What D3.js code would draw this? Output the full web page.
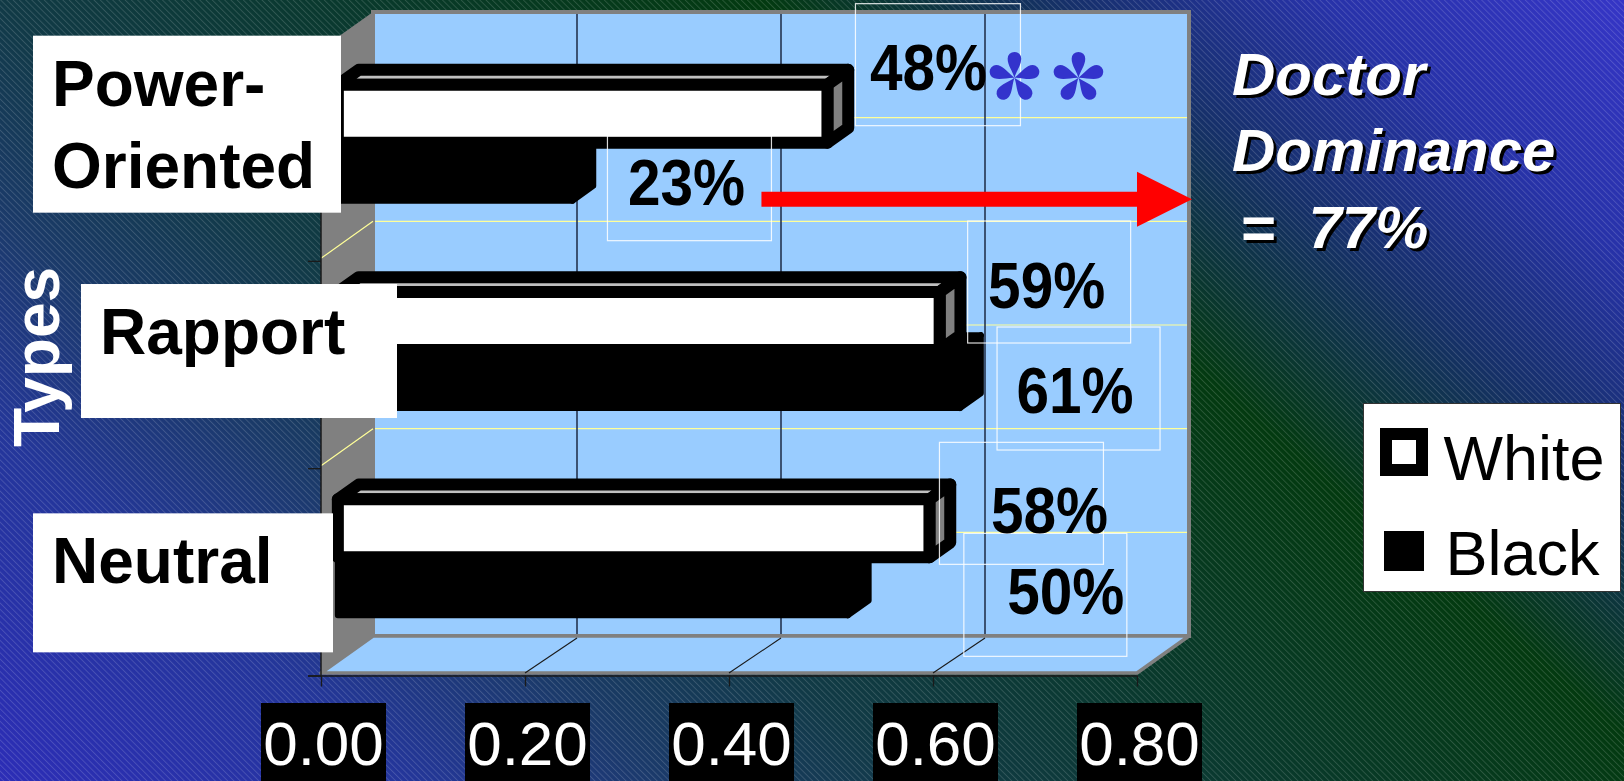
<!DOCTYPE html>
<html>
<head>
<meta charset="utf-8">
<script src="https://cdn.jsdelivr.net/npm/d3@7"></script>
<style>
  html, body { margin: 0; padding: 0; overflow: hidden; background: #1b2f6a; }
  text { font-family: "Liberation Sans", Arial, sans-serif; }
</style>
</head>
<body>
<svg id="chart" width="1624" height="781"></svg>
<script>
// ---- data ----
const categories = ["Power-Oriented", "Rapport", "Neutral"];
const categoryLines = [["Power-", "Oriented"], ["Rapport"], ["Neutral"]];
const seriesNames = ["White", "Black"];
const whiteShare = [0.48, 0.59, 0.58];
const blackShare = [0.23, 0.61, 0.50];
const valueTicks = [0, 0.2, 0.4, 0.6, 0.8];
const axisTitle = "Types";
const noteLines = ["Doctor", "Dominance", "=  77%"];

// ---- layout ----
const W = 1624, H = 781;
const wall = { left: 373, right: 1189, top: 12, bottom: 636 };
const DEPTH = { dx: -52, dy: 37 };            // back plane -> front plane offset
const BAR_FRONT = 0.676, BAR_BACK = 0.276;    // depth slot of the bars
const proj = (px, py, d) => [px + DEPTH.dx * d, py + DEPTH.dy * d];

const x = d3.scaleLinear().domain([0, 0.8]).range([wall.left, wall.right]);
const xFront = d3.scaleLinear().domain(x.domain()).range(x.range().map(v => v + DEPTH.dx));
const yCat = d3.scaleBand().domain(categories).range([wall.top + 2, wall.bottom]);
const ySer = d3.scaleBand().domain(seriesNames).range([0, yCat.bandwidth()])
  .paddingInner(0).paddingOuter(0.787);

const seriesStyle = {
  White: { front: "#ffffff", top: "#c0c0c0", side: "#808080", stroke: "#000", width: 12 },
  Black: { front: "#000000", top: "#000000", side: "#000000", stroke: "#000", width: 6 }
};
const shares = { White: whiteShare, Black: blackShare };

// data label placement: text offset from bar end, frame offset from text anchor
const labelLayout = {
  White: [
    { tx: 101, ty: -24, bx: -73,  by: -86, bw: 165, bh: 122 },
    { tx: 107, ty: -13, bx: -79,  by: -87, bw: 163, bh: 122 },
    { tx: 120, ty: 5,   bx: -110, by: -91, bw: 164, bh: 122 }
  ],
  Black: [
    { tx: 114, ty: 33, bx: -79,  by: -69, bw: 164, bh: 105 },
    { tx: 115, ty: 34, bx: -78,  by: -86, bw: 163, bh: 123 },
    { tx: 218, ty: 28, bx: -102, by: -81, bw: 163, bh: 123 }
  ]
};
// category label boxes (left x, top relative to the cluster centre on the front plane)
const catBoxes = [
  { x: 33, top: -107, w: 308, h: 177 },
  { x: 81, top: -66,  w: 316, h: 134 },
  { x: 33, top: -44,  w: 300, h: 139 }
];

const svg = d3.select("#chart");
const defs = svg.append("defs");

// ---- background: diagonal gradient with fine hatching ----
const grad = defs.append("linearGradient").attr("id", "bgGrad")
  .attr("gradientUnits", "userSpaceOnUse")
  .attr("x1", 56).attr("y1", 828).attr("x2", 1123).attr("y2", -427);
[[0, "#2c2db6"], [0.16, "#24369a"], [0.26, "#1b3a6a"], [0.36, "#113a46"],
 [0.5, "#09392c"], [0.66, "#033a10"], [0.78, "#16306a"], [0.88, "#2732a8"], [1, "#3535c6"]]
  .forEach(([o, c]) => grad.append("stop").attr("offset", o).attr("stop-color", c));

const hatch = defs.append("pattern").attr("id", "hatch")
  .attr("patternUnits", "userSpaceOnUse").attr("width", 4.4).attr("height", 4.4)
  .attr("patternTransform", "rotate(-45)");
hatch.append("line").attr("x1", 0.5).attr("y1", 0).attr("x2", 0.5).attr("y2", 4.4)
  .attr("stroke", "#ffffff").attr("stroke-opacity", 0.18).attr("stroke-width", 0.8);

svg.append("rect").attr("width", W).attr("height", H).attr("fill", "url(#bgGrad)");
svg.append("rect").attr("width", W).attr("height", H).attr("fill", "url(#hatch)");

const line = d3.line();
const poly = pts => line(pts) + "Z";

// ---- walls ----
const plot = svg.append("g");
plot.append("path")
  .attr("d", poly([[wall.left, wall.top], [wall.left, wall.bottom],
                   proj(wall.left, wall.bottom, 1), proj(wall.left, wall.top, 1)]))
  .attr("fill", "#808080");
plot.append("rect")
  .attr("x", wall.left).attr("y", wall.top)
  .attr("width", wall.right - wall.left).attr("height", wall.bottom - wall.top)
  .attr("fill", "#99ccff").attr("stroke", "#808080").attr("stroke-width", 4);
plot.append("path")
  .attr("d", poly([[wall.left, wall.bottom], [wall.right, wall.bottom],
                   proj(wall.right, wall.bottom, 1), proj(wall.left, wall.bottom, 1)]))
  .attr("fill", "#99ccff").attr("stroke", "#808080").attr("stroke-width", 3.5)
  .attr("stroke-linejoin", "round");

// horizontal gridlines: category boundaries and band centres
const bw = yCat.bandwidth();
const hLines = categories.slice(1).map(c => yCat(c))
  .concat(categories.map(c => yCat(c) + bw / 2));
plot.selectAll(".hgrid").data(hLines).join("line")
  .attr("x1", wall.left + 2).attr("x2", wall.right - 2)
  .attr("y1", d => d).attr("y2", d => d)
  .attr("stroke", "#ffff99").attr("stroke-width", 1.2);
plot.selectAll(".sgrid").data(hLines).join("path")
  .attr("d", d => line([[wall.left, d], proj(wall.left, d, 1)]))
  .attr("stroke", "#ffff99").attr("stroke-width", 1.2);

// vertical gridlines on the back wall and their traces across the floor
const inner = valueTicks.slice(1, -1);
plot.selectAll(".vgrid").data(inner).join("line")
  .attr("x1", d => x(d)).attr("x2", d => x(d))
  .attr("y1", wall.top + 2).attr("y2", wall.bottom - 2)
  .attr("stroke", "#1c2a44").attr("stroke-width", 1.5);
plot.selectAll(".fgrid").data(inner).join("path")
  .attr("d", d => line([[x(d), wall.bottom + 2], proj(x(d), wall.bottom, 1)]))
  .attr("stroke", "#1a1a1a").attr("stroke-width", 1.1);

// ---- axes ----
const axisY = wall.bottom + DEPTH.dy + 2.5;
const axisG = svg.append("g").attr("transform", `translate(0,${axisY})`)
  .call(d3.axisBottom(xFront).tickValues(valueTicks).tickSize(11).tickSizeOuter(0).tickFormat(""));
axisG.select(".domain").attr("stroke", "#1a1a1a").attr("stroke-width", 1.5)
  .attr("d", `M${xFront(0) - 13},0.5H${xFront(0.8)}`);
axisG.selectAll(".tick line").attr("stroke", "#1a1a1a").attr("stroke-width", 1.3);

const catX = xFront(0);
svg.append("line").attr("x1", catX).attr("x2", catX)
  .attr("y1", wall.top + DEPTH.dy).attr("y2", axisY)
  .attr("stroke", "#1a1a1a").attr("stroke-width", 1.5);
const catTicks = categories.map(c => yCat(c)).concat([yCat.range()[1]]).slice(1)
  .map(v => v + DEPTH.dy + 3);
svg.selectAll(".ctick").data(catTicks).join("line")
  .attr("x1", catX - 13).attr("x2", catX).attr("y1", d => d).attr("y2", d => d)
  .attr("stroke", "#1a1a1a").attr("stroke-width", 1.3);

// ---- 3-D bars ----
const barsG = svg.append("g");
function barFaces(v, y0, y1) {
  const a = x(0), b = x(v);
  return {
    top: [proj(a, y0, BAR_FRONT), proj(b, y0, BAR_FRONT), proj(b, y0, BAR_BACK), proj(a, y0, BAR_BACK)],
    side: [proj(b, y0, BAR_FRONT), proj(b, y0, BAR_BACK), proj(b, y1, BAR_BACK), proj(b, y1, BAR_FRONT)],
    front: [proj(a, y0, BAR_FRONT), proj(b, y0, BAR_FRONT), proj(b, y1, BAR_FRONT), proj(a, y1, BAR_FRONT)]
  };
}
const barInfo = [];
categories.forEach((cat, i) => {
  ["Black", "White"].forEach(s => {
    const v = shares[s][i];
    const y0 = yCat(cat) + ySer(s), y1 = y0 + ySer.bandwidth();
    const st = seriesStyle[s];
    const f = barFaces(v, y0, y1);
    const g = barsG.append("g").attr("class", "bar " + s);
    [["top", st.top], ["side", st.side], ["front", st.front]].forEach(([k, fill]) => {
      g.append("path").attr("d", poly(f[k])).attr("fill", fill)
        .attr("stroke", st.stroke).attr("stroke-width", st.width)
        .attr("stroke-linejoin", "round");
    });
    const endF = proj(x(v), (y0 + y1) / 2, BAR_FRONT);
    barInfo.push({ s, i, v, ex: endF[0], ey: endF[1] });
  });
});

// ---- data labels ----
const labelsG = svg.append("g");
const pct = d3.format(".0%");
const anchors = {};
barInfo.forEach(b => {
  const L = labelLayout[b.s][b.i];
  const tx = b.ex + L.tx, ty = b.ey + L.ty;
  anchors[b.s + b.i] = [tx, ty];
  labelsG.append("rect")
    .attr("x", tx + L.bx).attr("y", ty + L.by).attr("width", L.bw).attr("height", L.bh)
    .attr("fill", "none").attr("stroke", "#ffffff").attr("stroke-opacity", 0.85).attr("stroke-width", 1.2);
  labelsG.append("text")
    .attr("transform", `translate(${tx},${ty}) scale(0.9,1)`)
    .attr("text-anchor", "middle").attr("font-size", 65).attr("font-weight", "bold")
    .attr("fill", "#000").text(pct(b.v));
});

// significance marks (five-petal asterisks) next to the white power-oriented label
const petal = "M0,0 C-1.8,-6.5 -6.8,-12.5 -6.8,-19 A6.8,6.8 0 0 1 6.8,-19 C6.8,-12.5 1.8,-6.5 0,0Z";
const [sx, sy] = anchors["White0"];
[86, 150].forEach(off => {
  const g = labelsG.append("g").attr("transform", `translate(${sx + off},${sy - 12})`);
  d3.range(5).forEach(k => g.append("path").attr("d", petal)
    .attr("transform", `rotate(${k * 72})`).attr("fill", "#3333cc"));
});

// red arrow from the black power-oriented label to the note
const [ax, ay] = anchors["Black0"];
const arrowY = ay - 5.5, shaft = 7.5, headLen = 55, headHalf = 27.5;
const tipX = x(0.8) + 3, baseX = tipX - headLen, startX = ax + 75;
svg.append("path")
  .attr("d", poly([[startX, arrowY - shaft], [baseX, arrowY - shaft], [baseX, arrowY - headHalf],
                   [tipX, arrowY], [baseX, arrowY + headHalf], [baseX, arrowY + shaft], [startX, arrowY + shaft]]))
  .attr("fill", "#ff0000");

// ---- category labels ----
categories.forEach((cat, i) => {
  const B = catBoxes[i];
  const cy = yCat(cat) + bw / 2 + DEPTH.dy * BAR_FRONT;
  const top = cy + B.top;
  svg.append("rect").attr("x", B.x).attr("y", top).attr("width", B.w).attr("height", B.h)
    .attr("fill", "#ffffff");
  const t = svg.append("text").attr("font-size", 64).attr("font-weight", "bold").attr("fill", "#000");
  categoryLines[i].forEach((ln, k) => {
    t.append("tspan").attr("x", B.x + 19).attr("y", top + 70 + k * 82).text(ln);
  });
});

// axis title
svg.append("text")
  .attr("transform", `translate(59,357) rotate(-90)`)
  .attr("text-anchor", "middle").attr("font-size", 64).attr("font-weight", "bold")
  .attr("fill", "#ffffff").text(axisTitle);

// value tick labels on black plates
const tickG = svg.append("g");
valueTicks.forEach(t => {
  const cx = xFront(t) + 2.5;
  tickG.append("rect").attr("x", cx - 62.5).attr("y", 703).attr("width", 125).attr("height", 80)
    .attr("fill", "#000");
  tickG.append("text").attr("x", cx).attr("y", 765).attr("text-anchor", "middle")
    .attr("font-size", 62).attr("fill", "#ffffff").text(d3.format(".2f")(t));
});

// ---- note ----
const noteX = x(0.8) + 43;
const noteBase = [95, 171, 248];
const noteIndent = [0, 0, 8];
[["#000000", 3], ["#ffffff", 0]].forEach(([c, o]) => {
  const t = svg.append("text").attr("font-size", 60).attr("font-weight", "bold")
    .attr("font-style", "italic").attr("fill", c).attr("xml:space", "preserve");
  noteLines.forEach((ln, k) => {
    t.append("tspan").attr("x", noteX + noteIndent[k] + o).attr("y", noteBase[k] + o).text(ln);
  });
});

// ---- legend ----
const leg = svg.append("g").attr("transform", "translate(1363.5,403.5)");
leg.append("rect").attr("width", 257).attr("height", 188).attr("fill", "#ffffff")
  .attr("stroke", "#333333").attr("stroke-width", 1);
leg.append("rect").attr("x", 22.5).attr("y", 30.5).attr("width", 36).attr("height", 36)
  .attr("fill", "#ffffff").attr("stroke", "#000").attr("stroke-width", 12);
leg.append("rect").attr("x", 20.5).attr("y", 127.5).attr("width", 40).attr("height", 40)
  .attr("fill", "#000");
seriesNames.forEach((s, k) => {
  leg.append("text").attr("x", 80 + k * 2).attr("y", 76.5 + k * 95)
    .attr("font-size", 63).attr("fill", "#000").text(s);
});
</script>
</body>
</html>
